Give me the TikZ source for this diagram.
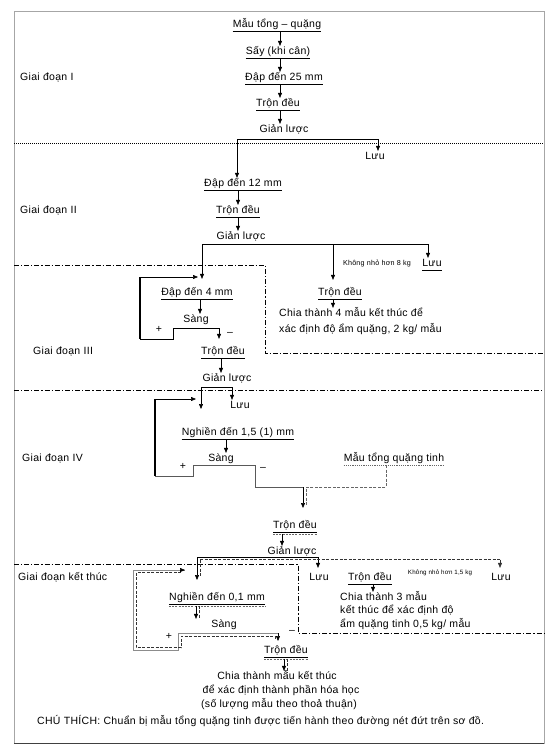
\documentclass[tikz,border=0pt]{standalone}
\usepackage{fontspec}
\setmainfont{Liberation Sans}[LetterSpace=3]
\usetikzlibrary{arrows.meta}
\begin{document}
\begin{tikzpicture}[x=1pt,y=-1pt,
  t/.style={inner xsep=0pt, inner ysep=1pt, text height=7.5pt, text depth=2.3pt, font=\fontsize{10.5}{12}\selectfont},
  sm/.style={inner sep=0pt, font=\fontsize{7.2}{8}\selectfont},
  xs/.style={inner sep=0pt, font=\fontsize{6.2}{7}\selectfont},
  ul/.style={append after command={(\tikzlastnode.south west) edge[draw=black, line width=0.6pt] (\tikzlastnode.south east)}},
  uld/.style={ul, append after command={([yshift=-1.8pt]\tikzlastnode.south west) edge[draw=black!60, dash pattern=on 2pt off 1.2pt, line width=0.6pt] ([yshift=-1.8pt]\tikzlastnode.south east)}},
  uldot/.style={append after command={(\tikzlastnode.south west) edge[draw=black!60, dash pattern=on 1.2pt off 1pt, line width=0.6pt] (\tikzlastnode.south east)}},
  arr/.style={-{Triangle[length=5pt,width=4pt]}, line width=0.6pt},
  ln/.style={line width=0.6pt},
  thk/.style={line width=1.4pt},
  dd/.style={line width=0.7pt, dash pattern=on 5pt off 2pt on 1.2pt off 2pt},
  dt/.style={line width=0.9pt, dash pattern=on 1pt off 1pt},
  dsh/.style={line width=0.6pt, black!80, dash pattern=on 3pt off 1.5pt},
  gry/.style={line width=1pt, black!45}
]
\useasboundingbox (0,0) rectangle (556,752);
% frame
\draw[black!35, line width=0.8pt] (14,11) rectangle (544,743);
\draw[black!75, line width=1pt] (14,743) -- (544,743);
% stage separators
\draw[dt] (14,143) -- (544,143);
\draw[dd] (14,265) -- (265,265) -- (265,353) -- (544,353);
\draw[dd] (14,390) -- (544,390);
\draw[dd] (14,564) -- (298,564) -- (298,633) -- (544,633);

% stage labels
\node[t,anchor=west] (s1) at (20,78) {Giai đoạn I};
\node[t,anchor=west] (s2) at (20,211) {Giai đoạn II};
\node[t,anchor=west] (s3) at (33,352) {Giai đoạn III};
\node[t,anchor=west] (s4) at (22,459) {Giai đoạn IV};
\node[t,anchor=west] (s5) at (18,578) {Giai đoạn kết thúc};

% ---- Stage I
\node[t,ul] (n1) at (277,25) {Mẫu tổng – quặng};
\node[t,ul] (n2) at (278,52) {Sấy (khi cân)};
\node[t,ul] (n3) at (284,78) {Đập đến 25 mm};
\node[t,ul] (n4) at (278,104) {Trộn đều};
\node[t] (n5) at (284,130) {Giản lược};
\coordinate (xa) at (280,0);
\draw[arr] (n1.south -| xa) -- (n2.north -| xa);
\draw[arr] (n2.south -| xa) -- (n3.north -| xa);
\draw[arr] (n3.south -| xa) -- (n4.north -| xa);
\draw[arr] (n4.south -| xa) -- (n5.north -| xa);

% ---- Stage II
\node[t] (L1) at (375,157) {Lưu};
\node[t,ul] (n6) at (243,184) {Đập đến 12 mm};
\node[t,ul] (n7) at (238,211) {Trộn đều};
\node[t] (n8) at (241,237) {Giản lược};
\coordinate (j1) at (237,139);
\coordinate (j2) at (378,139);
\draw[arr] (j1) -- (n6.north -| j1);
\draw[arr] (j1) -- (j2) -- (L1.north -| j2);
\coordinate (xb) at (238,0);
\draw[arr] (n6.south -| xb) -- (n7.north -| xb);
\draw[arr] (n7.south -| xb) -- (n8.north -| xb);

\coordinate (k1) at (202,244);
\coordinate (k2) at (333,244);
\coordinate (k3) at (428,244);
\node[sm] (K1) at (377,264) {Không nhỏ hơn 8 kg};
\node[t,ul] (L2) at (432,264) {Lưu};
\draw[ln] (k1) -- (k3);
\draw[arr] (k3) -- (L2.north -| k3);

% ---- Stage III
\node[t,ul] (n9) at (197,293) {Đập đến 4 mm};
\node[t] (n10) at (196,320) {Sàng};
\node[t,ul] (n11) at (223,352) {Trộn đều};
\node[t] (n12) at (227,379) {Giản lược};
\draw[arr, shorten >=8pt] (k1) -- (n9.north -| k1);
\coordinate (xc) at (200,0);
\draw[arr] (n9.south -| xc) -- (n10.north -| xc);
\coordinate (p0) at (198,277);
\coordinate (p1) at (140,277);
\coordinate (p2) at (140,339);
\coordinate (p3) at (173,339);
\coordinate (p4) at (173,328);
\coordinate (p5) at (219,328);
\draw[arr] (p1) -- (p0);
\draw[thk] (p1) -- (p2);
\draw[arr, shorten >=7pt] (p2) -- (p3) -- (p4) -- (p5) -- (n11.north -| p5);
\node[t] (pl1) at (159,330) {+};
\node[t] (mi1) at (230,333) {–};
\coordinate (xd) at (221,0);
\draw[arr] (n11.south -| xd) -- (n12.north -| xd);

\node[t,ul] (n13) at (340,293) {Trộn đều};
\node[t,anchor=west] (T1a) at (279,314) {Chia thành 4 mẫu kết thúc để};
\node[t,anchor=west] (T1b) at (279,330) {xác định độ ẩm quặng, 2 kg/ mẫu};
\draw[arr, shorten >=7pt] (k2) -- (n13.north -| k2);
\draw[arr] (n13.south -| k2) -- (T1a.north -| k2);

% ---- Stage IV
\node[t] (L3) at (240,406) {Lưu};
\node[t,ul] (n14) at (238,433) {Nghiền đến 1,5 (1) mm};
\node[t] (n15) at (221,459) {Sàng};
\node[t,uldot] (n16) at (394,459) {Mẫu tổng quặng tinh};
\node[t,uld] (n17) at (295,526) {Trộn đều};
\node[t] (n18) at (292,552) {Giản lược};
\coordinate (q1) at (201,387);
\coordinate (q2) at (232,387);
\coordinate (q3) at (201,409);
\draw[ln] (q1) -- (q2);
\draw[arr] (q2) -- (L3.north -| q2);
\draw[arr] (q1) -- (q3);
\coordinate (xe) at (226,0);
\draw[arr] (n14.south -| xe) -- (n15.north -| xe);
\coordinate (r0) at (196,399);
\coordinate (r1) at (155,399);
\coordinate (r2) at (155,476);
\coordinate (r3) at (193,476);
\coordinate (r4) at (193,465);
\coordinate (r5) at (255,465);
\coordinate (r6) at (255,487);
\coordinate (r7) at (303,487);
\coordinate (r8) at (303,508);
\draw[arr] (r1) -- (r0);
\draw[thk] (r1) -- (r2);
\draw[ln, black!65] (r2) -- (r3) -- (r4) -- (r5) -- (r6) -- (r7);
\draw[arr] (r7) -- (r8);
\draw[dsh, black!60] (n16.south west -| 386,0) -- (386,487) -- (306,487) -- (306,506);
\node[t] (pl2) at (183,467) {+};
\node[t] (mi2) at (263,468) {–};
\coordinate (xf) at (282,0);
\draw[arr] (n17.south -| xf) ++(0,1.8) -- (n18.north -| xf);

% ---- Final stage
\node[t] (L4) at (319,578) {Lưu};
\node[t] (L5) at (501,578) {Lưu};
\node[t,ul] (n20) at (370,578) {Trộn đều};
\node[xs] (K2) at (440,573) {Không nhỏ hơn 1,5 kg};
\node[t,anchor=west] (T3a) at (340,598) {Chia thành 3 mẫu};
\node[t,anchor=west] (T3b) at (340,611) {kết thúc để xác định độ};
\node[t,anchor=west] (T3c) at (340,625) {ẩm quặng tinh 0,5 kg/ mẫu};
\coordinate (xg) at (373,0);
\draw[arr] (n20.south -| xg) -- (T3a.north -| xg);

\node[t,uld] (n21) at (217,598) {Nghiền đến 0,1 mm};
\node[t] (n22) at (224,625) {Sàng};
\node[t,uld] (n23) at (286,651) {Trộn đều};
\node[t] (T2a) at (277,677) {Chia thành mẫu kết thúc};
\node[t] (T2b) at (281,691) {để xác định thành phần hóa học};
\node[t] (T2c) at (279,705) {(số lượng mẫu theo thoả thuận)};
\node[t,anchor=west] (note) at (37,722) {CHÚ THÍCH: Chuẩn bị mẫu tổng quặng tinh được tiến hành theo đường nét đứt trên sơ đồ.};

\coordinate (u1) at (197,557);
\coordinate (u2) at (318,557);
\coordinate (u3) at (197,580);
\coordinate (v1) at (200,559.5);
\coordinate (v2) at (500,559.5);
\coordinate (v3) at (200,576);
\draw[ln] (u1) -- (u2);
\draw[arr] (u1) -- (u3);
\draw[arr, shorten >=4pt] (u2) -- (L4.north -| u2);
\draw[dsh] (v1) -- (v2);
\draw[dsh] (v1) -- (v3);
\draw[arr, dsh, shorten >=4pt] (v2) -- (L5.north -| v2);

\coordinate (xh) at (196,0);
\draw[arr] (n21.south -| xh) ++(0,1.8) -- (n22.north -| xh);
\draw[dsh] ([xshift=3pt,yshift=-1.8pt]n21.south -| xh) -- ([xshift=3pt]n22.north -| xh);

\coordinate (w0) at (185,570);
\coordinate (w1) at (133,570);
\coordinate (w2) at (133,650);
\coordinate (w3) at (178,650);
\coordinate (w4) at (178,633);
\coordinate (w5) at (278,633);
\coordinate (w6) at (278,641);
\draw[gry] (w2) -- (w1) -- (w0);
\draw[arr] ([xshift=-3pt]w0) -- (w0);
\draw[gry] (w2) -- (w3) -- (w4) -- (w5);
\draw[arr] (w5) -- (w6);
\draw[dsh] (181,572.5) -- (136,572.5) -- (136,647.5) -- (181,647.5) -- (181,636) -- (275,636) -- (275,640);
\node[t] (pl3) at (169,637) {+};
\node[t] (mi3) at (292,631) {–};

\coordinate (xi) at (284,0);
\draw[arr] (n23.south -| xi) ++(0,1.8) -- (T2a.north -| xi);
\draw[dsh] ([xshift=3pt,yshift=-1.8pt]n23.south -| xi) -- ([xshift=3pt,yshift=-2pt]T2a.north -| xi);
\end{tikzpicture}
\end{document}
